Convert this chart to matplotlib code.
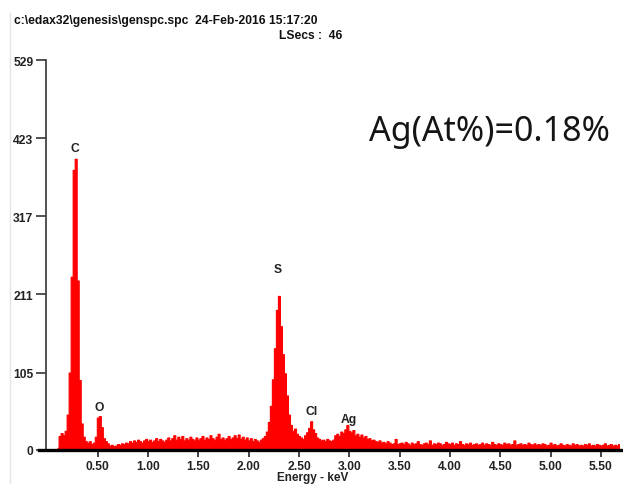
import numpy as np
import matplotlib
matplotlib.use('Agg')
from matplotlib import pyplot as plt
from matplotlib.lines import Line2D

# EDS spectrum, channel width 0.02 keV, first channel at 0.10 keV
ch_start = 0.10
ch_width = 0.02

# counts, region by region
counts_c_o = [3, 19, 23, 20, 26, 48, 105, 235, 380, 395,
              230, 95, 36, 18, 12, 10, 12, 8, 10, 18,
              44, 46, 31, 16, 12, 9, 6, 7, 5, 6]                # 0.10 - 0.68
counts_bg1 = [8, 7, 9, 8, 10, 9, 12, 10, 13, 11,
              14, 12, 10, 13, 15, 12, 14, 11, 13, 16,
              12, 15, 13, 11, 14, 17, 13, 16, 20, 14,
              18, 15, 19, 13, 16, 14, 18, 15, 13, 17,
              14, 16, 19, 14, 17, 15, 20, 16, 14, 18,
              22, 15, 17, 14, 16, 19, 15, 17, 20, 16,
              21, 15, 18, 14, 17, 13, 16, 12, 15, 13,
              11, 14, 16, 19]                                      # 0.70 - 2.16
counts_s = [25, 38, 60, 96, 138, 190, 209, 168, 130, 104,
            74, 48, 34, 26, 29, 22, 19, 17, 15]                   # 2.18 - 2.54
counts_cl = [20, 24, 30, 39, 28, 23, 17, 15, 13, 14,
             12, 15, 13, 12, 14]                                  # 2.56 - 2.84
counts_ag = [20, 22, 19, 25, 23, 28, 34, 26, 24, 27,
             20, 22, 18, 21, 17, 19, 15, 16, 13, 14,
             12, 11, 13, 10, 11, 9, 12, 10, 8, 9,
             15, 8]                                               # 2.86 - 3.48
counts_tail = [9, 10, 8, 11, 9, 7, 10, 8, 9, 12,
               8, 7, 9, 10, 8, 13, 7, 9, 8, 10,
               9, 7, 8, 11, 9, 8, 10, 7, 9, 8,
               12, 8, 7, 9, 8, 10, 7, 8, 9, 7,
               8, 10, 7, 9, 8, 7, 11, 8, 7, 9,
               8, 7, 10, 8, 9, 7, 8, 13, 7, 8,
               9, 7, 8, 7, 10, 8, 7, 9, 7, 8,
               7, 9, 8, 6, 7, 10, 7, 8, 6, 7,
               9, 7, 6, 8, 7, 6, 9, 7, 8, 6,
               7, 6, 8, 7, 9, 6, 7, 6, 8, 7,
               6, 7, 9, 6, 7, 8, 6, 7, 6, 8]                     # 3.50 - 5.68

y_ticks = [0, 105, 211, 317, 423, 529]
x_ticks = [0.50, 1.00, 1.50, 2.00, 2.50, 3.00, 3.50, 4.00, 4.50, 5.00, 5.50]

peak_names = ['C', 'O', 'S', 'Cl', 'Ag']
peak_energy = [0.27, 0.51, 2.29, 2.63, 2.99]
peak_label_y = [410, 58, 246, 53, 42]

header1 = 'c:\\edax32\\genesis\\genspc.spc  24-Feb-2016 15:17:20'
header2 = 'LSecs :  46'
note = 'Ag(At%)=0.18%'

counts = np.array(counts_c_o + counts_bg1 + counts_s + counts_cl + counts_ag + counts_tail)
energy = ch_start + ch_width * np.arange(len(counts))

W, H = 623, 485
fig = plt.figure(figsize=(W / 100, H / 100), dpi=100)
fig.patch.set_facecolor('white')
ax = fig.add_axes([46 / W, 1 - 451 / H, (621 - 46) / W, (451 - 61) / H])

ax.fill_between(energy, counts, step='mid', facecolor='#ff0000', edgecolor='#ff0000', lw=0.8)

ax.set_xlim(-0.015, 5.70)
ax.set_ylim(0, 529)

for s in ['top', 'right', 'bottom']:
    ax.spines[s].set_visible(False)
ax.spines['left'].set_color('#444444')
ax.spines['left'].set_linewidth(1.3)

# thick base line, stretching left past the y axis like the 0 tick
ax.plot([-0.085, 5.70], [0, 0], color='black', lw=2.4, clip_on=False, zorder=5)

tick_font = dict(family=['Liberation Sans', 'DejaVu Sans'], weight='bold', size=8.7)
ax.set_yticks(y_ticks)
ax.set_yticklabels([str(v) for v in y_ticks], **tick_font)
ax.set_xticks(x_ticks)
ax.set_xticklabels(['%.2f' % v for v in x_ticks], **tick_font)
ax.tick_params(axis='y', direction='out', length=7, width=1.3, color='#444444', pad=2, labelcolor='#222222')
ax.tick_params(axis='x', direction='out', length=5, width=1.2, color='#222222', pad=2.5, labelcolor='#222222')

# axis title sits right at the bottom edge
fig.text(313 / W, 0.5 / H, 'Energy - keV', ha='center', va='bottom', color='#222222',
         family=['Liberation Sans', 'DejaVu Sans'], weight='bold', size=8.5)

for name, e, y in zip(peak_names, peak_energy, peak_label_y):
    ax.text(e, y, name, ha='center', va='center', color='#222222', **tick_font)

fig.text(14 / W, 1 - 21 / H, header1, ha='left', va='center', color='#111111', **tick_font)
fig.text(342 / W, 1 - 36 / H, header2, ha='right', va='center', color='#111111', **tick_font)

fig.text(369 / W, 1 - 132 / H, note, ha='left', va='center', color='#151515',
         family=['Noto Sans', 'DejaVu Sans'], size=24.5)

# faint frame line of the original screenshot
fig.add_artist(Line2D([10 / W, 10 / W], [0, 1 - 14 / H], transform=fig.transFigure,
                      color='#e4e4e4', lw=1))

fig.savefig('out.png', dpi=100)
